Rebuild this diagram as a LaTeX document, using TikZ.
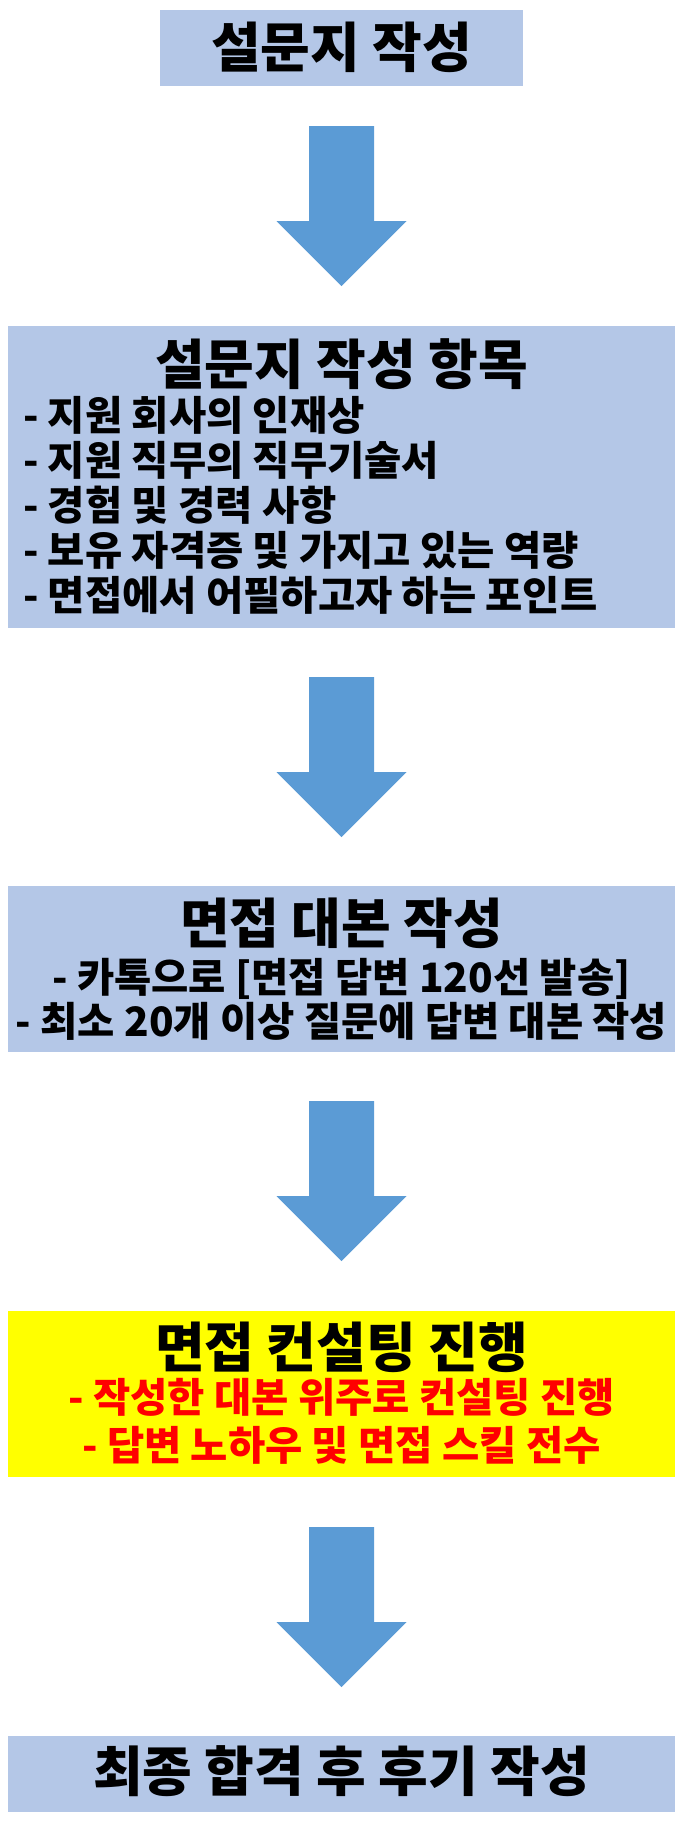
\documentclass[tikz,border=0pt]{standalone}
\usepackage{fontspec}
\setmainfont{Noto Sans CJK KR}
\usetikzlibrary{calc}
\definecolor{boxblue}{HTML}{B4C7E7}
\definecolor{arrblue}{HTML}{5B9BD5}
\definecolor{hiyellow}{HTML}{FFFF00}
\definecolor{hired}{HTML}{FF0000}
\begin{document}
\begin{tikzpicture}[x=1pt,y=-1pt,
 panel/.style={fill=boxblue, draw=none, inner sep=0, minimum width=667pt},
 ttl/.style={inner sep=0, text height=44.3pt, text depth=3.8pt, font=\bfseries\fontsize{54}{54}\selectfont},
 itm/.style={inner sep=0, text height=33.2pt, text depth=2.8pt, font=\bfseries\fontsize{40.5}{40.5}\selectfont},
 blk/.style={fill=arrblue, draw=none}]
\useasboundingbox (0,0) rectangle (682,1832);
% boxes
\node[panel, minimum width=363pt, minimum height=76pt] (b1) at (341.5,48) {};
\node[panel, minimum height=302pt] (b2) at (341.5,477) {};
\node[panel, minimum height=166pt] (b3) at (341.5,969) {};
\node[panel, fill=hiyellow, minimum height=166pt] (b4) at (341.5,1394) {};
\node[panel, minimum height=76pt] (b5) at (341.5,1774) {};
% texts
\node[ttl] (t1) at (341.5,47) {설문지 작성};
\node[ttl] (t2) at (341.5,364) {설문지 작성 항목};
\node[itm, anchor=west] (t2a) at (23,415) {- 지원 회사의 인재상};
\node[itm, anchor=west] (t2b) at (23,460) {- 지원 직무의 직무기술서};
\node[itm, anchor=west] (t2c) at (23,505) {- 경험 및 경력 사항};
\node[itm, anchor=west] (t2d) at (23,550) {- 보유 자격증 및 가지고 있는 역량};
\node[itm, anchor=west] (t2e) at (23,595) {- 면접에서 어필하고자 하는 포인트};
\node[ttl] (t3) at (341.5,923.5) {면접 대본 작성};
\node[itm] (t3a) at (341.5,977.5) {- 카톡으로 [면접 답변 120선 발송]};
\node[itm] (t3b) at (341.5,1021) {- 최소 20개 이상 질문에 답변 대본 작성};
\node[ttl] (t4) at (341.5,1347) {면접 컨설팅 진행};
\node[itm, text=hired] (t4a) at (341.5,1397) {- 작성한 대본 위주로 컨설팅 진행};
\node[itm, text=hired] (t4b) at (341.5,1445.5) {- 답변 노하우 및 면접 스킬 전수};
\node[ttl] (t5) at (341.5,1771) {최종 합격 후 후기 작성};
% arrows
\coordinate (a1) at ($(b1.south)+(0,40)$);
\coordinate (a2) at ($(b2.south)+(0,49)$);
\coordinate (a3) at ($(b3.south)+(0,49)$);
\coordinate (a4) at ($(b4.south)+(0,50)$);
\foreach \a in {a1,a2,a3,a4}{
  \fill[blk] (\a) ++(-32.5,0) -- ++(65,0) -- ++(0,95) -- ++(32.5,0) -- ++(-65,65) -- ++(-65,-65) -- ++(32.5,0) -- cycle;
}
\end{tikzpicture}
\end{document}
